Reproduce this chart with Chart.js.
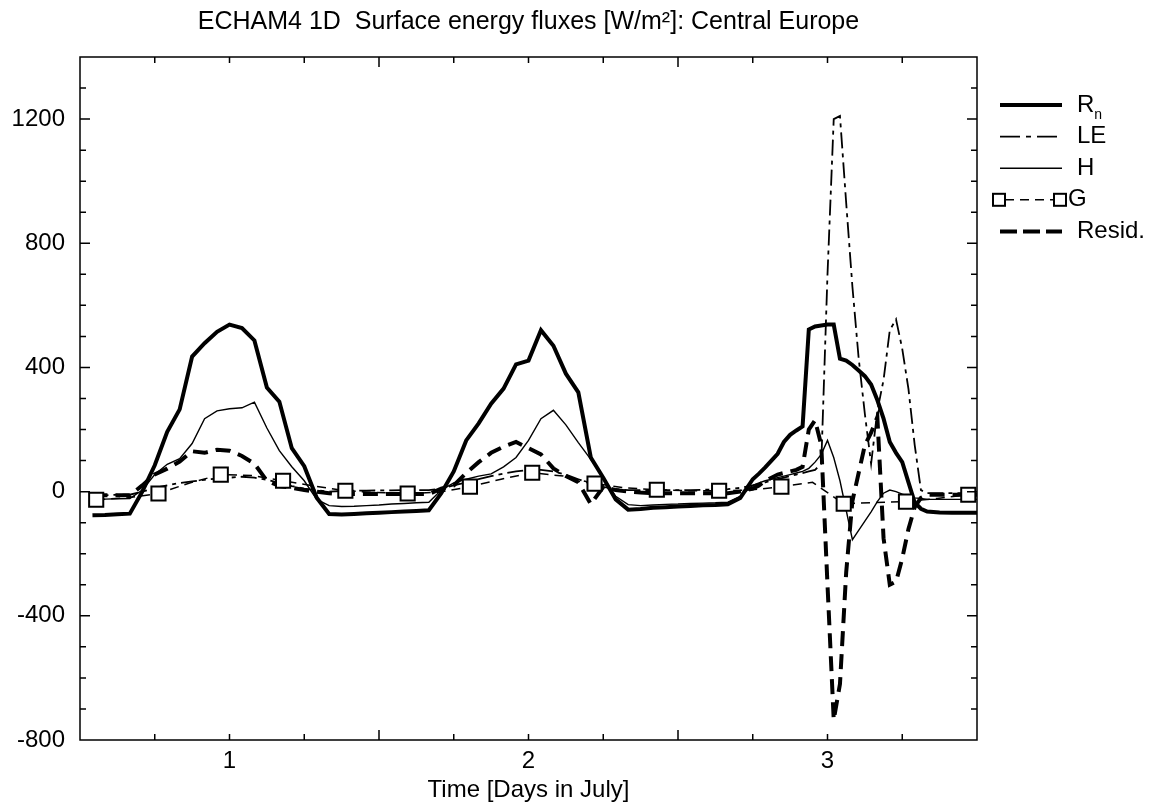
<!DOCTYPE html>
<html>
<head>
<meta charset="utf-8">
<script src="https://cdn.jsdelivr.net/npm/chart.js@4/dist/chart.umd.min.js"></script>
<style>
  html, body { margin: 0; padding: 0; background: #fff; }
</style>
</head>
<body>
<canvas id="fluxChart" width="1153" height="808"></canvas>
<script>
// time axis in hours (day 1 = hour 24); half-hour steps around the day-3 event
const hours = [13, 14, 15, 16, 17, 18, 19, 20, 21, 22,
  23, 24, 25, 26, 27, 28, 29, 30, 31, 32,
  33, 34, 35, 36, 37, 38, 39, 40, 41, 42,
  43, 44, 45, 46, 47, 48, 49, 50, 51, 52,
  53, 54, 55, 56, 57, 58, 59, 60, 61, 62,
  63, 64, 65, 66,
  66.5, 67, 67.5, 68, 68.5, 69, 69.5, 70, 70.5, 71,
  71.5, 72, 72.5, 73, 73.5, 74, 74.5, 75, 75.5, 76,
  76.5, 77, 77.5, 78, 78.5, 79, 79.5, 80,
  81, 82, 83, 84];

const rn = [-76, -75, -73, -71, 0, 85, 193, 265, 435, 478,
  515, 538, 527, 487, 335, 290, 140, 82, -20, -72,
  -74, -72, -70, -68, -66, -64, -62, -60, -5, 65,
  165, 220, 283, 332, 410, 422, 520, 470, 380, 320,
  110, 45, -25, -58, -56, -52, -50, -48, -46, -44,
  -43, -41, -20, 40,
  58, 78, 100, 122, 160, 183, 197, 210, 522, 532,
  535, 538, 538, 428, 422, 408, 390, 372, 345, 295,
  235, 160, 125, 95, 30, -35, -55, -64,
  -67, -68, -68, -68];

const le = [-12, -12, -10, -10, 0, 12, 20, 28, 33, 38,
  42, 45, 48, 45, 38, 28, 18, 10, 4, 0,
  2, 3, 3, 4, 4, 5, 5, 5, 10, 20,
  30, 40, 50, 58, 65, 70, 70, 65, 55, 40,
  25, 15, 8, 5, 5, 5, 5, 5, 5, 6,
  6, 8, 12, 20,
  25, 30, 35, 40, 45, 50, 55, 60, 65, 70,
  90, 700, 1200, 1210, 930, 660, 430, 250, 90, 260,
  360, 520, 555, 460, 330, 150, 5, -5,
  -5, -5, -5, -5];

const sh = [-25, -24, -23, -22, 5, 55, 88, 106, 155, 235,
  260, 267, 270, 288, 205, 132, 80, 35, -25, -45,
  -48, -47, -45, -43, -40, -38, -36, -34, 5, 28,
  40, 50, 57, 80, 110, 165, 235, 262, 215, 158,
  104, 45, -15, -42, -45, -43, -41, -40, -38, -37,
  -36, -34, -15, 20,
  28, 35, 40, 45, 50, 55, 60, 65, 75, 95,
  120, 165, 110, 35, -60, -155, -125, -95, -65, -32,
  -5, 5, 0, -8, -15, -20, -22, -25,
  -25, -25, -25, -25];

const resid = [-12, -12, -12, -12, 20, 55, 74, 97, 130, 125,
  135, 132, 115, 90, 35, 18, 12, 5, 0, -5,
  -8, -8, -8, -8, -8, -8, -8, -8, 10, 20,
  60, 95, 125, 145, 160, 140, 120, 75, 50, 30,
  -40, 15, 5, 0, -3, -5, -5, -5, -5, -5,
  -5, -5, 0, 10,
  20, 35, 45, 55, 60, 65, 70, 80, 200, 230,
  150, -300, -735, -620, -260, -30, 60, 150, 190, 240,
  -150, -300, -290, -215, -120, -50, -20, -10,
  -10, -10, -10, -10];

// ground heat flux, sampled every 2.5 h (square every 5 h)
const gHours = [13.3, 15.8, 18.3, 20.8, 23.3, 25.8, 28.3, 30.8, 33.3, 35.8,
  38.3, 40.8, 43.3, 45.8, 48.3, 50.8, 53.3, 55.8, 58.3, 60.8,
  63.3, 65.8, 68.3, 70.8, 73.3, 75.8, 78.3, 80.8, 83.3, 84];
const gVals = [-26, -20, -6, 28, 55, 52, 35, 18, 3, -3,
  -6, -2, 16, 40, 61, 50, 26, 12, 6, 3,
  3, 5, 16, 30, -39, -35, -32, -22, -10, -8];

const dayTicks = {24: '1', 48: '2', 72: '3'};
const yLabelStep = 400;

const pts = (xs, ys) => xs.map((h, i) => ({x: h, y: ys[i]}));

Chart.defaults.font.family = "'Liberation Sans', Arial, Helvetica, sans-serif";
Chart.defaults.font.size = 24;
Chart.defaults.color = '#000';

// box frame, inward ticks on all four sides, and the line legend
const frameAndLegend = {
  id: 'frameAndLegend',
  afterDatasetsDraw(chart) {
    const {ctx, chartArea: a, scales: {x, y}} = chart;
    ctx.save();
    ctx.strokeStyle = '#000';
    ctx.lineWidth = 1.5;
    ctx.setLineDash([]);
    ctx.beginPath();
    x.ticks.forEach(t => {
      if (t.value <= x.min || t.value >= x.max) return;
      const px = x.getPixelForValue(t.value);
      const len = (t.value % 24 === 12) ? 10 : 6;
      ctx.moveTo(px, a.bottom); ctx.lineTo(px, a.bottom - len);
      ctx.moveTo(px, a.top); ctx.lineTo(px, a.top + len);
    });
    y.ticks.forEach(t => {
      if (t.value <= y.min || t.value >= y.max) return;
      const py = y.getPixelForValue(t.value);
      const len = (t.value % yLabelStep === 0) ? 10 : 6;
      ctx.moveTo(a.left, py); ctx.lineTo(a.left + len, py);
      ctx.moveTo(a.right, py); ctx.lineTo(a.right - len, py);
    });
    ctx.stroke();
    ctx.strokeRect(a.left, a.top, a.width, a.height);

    // legend
    const x0 = a.right + 23, x1 = a.right + 85, tx = a.right + 100;
    ctx.textBaseline = 'middle';
    ctx.textAlign = 'left';
    chart.data.datasets.forEach((ds, i) => {
      const ly = 105 + i * 31.6;
      ctx.lineWidth = ds.borderWidth;
      ctx.setLineDash(ds.legendDash || ds.borderDash || []);
      ctx.beginPath();
      if (ds.label === 'G') {
        ctx.moveTo(x0 + 5, ly); ctx.lineTo(x1 - 8, ly);
        ctx.stroke();
        ctx.setLineDash([]);
        ctx.lineWidth = 2;
        [x0 - 1, x1 - 2].forEach(cx => {
          ctx.fillStyle = '#fff';
          ctx.fillRect(cx - 6, ly - 6, 12, 12);
          ctx.strokeRect(cx - 6, ly - 6, 12, 12);
        });
        ctx.fillStyle = '#000';
        ctx.font = "24px 'Liberation Sans', Arial, sans-serif";
        ctx.fillText('G', x1 + 6, ly);
        return;
      }
      ctx.moveTo(x0, ly); ctx.lineTo(x1, ly);
      ctx.stroke();
      ctx.fillStyle = '#000';
      ctx.font = "24px 'Liberation Sans', Arial, sans-serif";
      if (ds.label === 'Rn') {
        ctx.fillText('R', tx, ly);
        const w = ctx.measureText('R').width;
        ctx.font = "14px 'Liberation Sans', Arial, sans-serif";
        ctx.fillText('n', tx + w, ly + 10);
      } else {
        ctx.fillText(ds.label, tx, ly);
      }
    });
    ctx.restore();
  }
};

new Chart(document.getElementById('fluxChart'), {
  type: 'line',
  data: {
    datasets: [
      {label: 'Rn', data: pts(hours, rn), borderColor: '#000', borderWidth: 4,
        pointRadius: 0, order: 1},
      {label: 'LE', data: pts(hours, le), borderColor: '#000', borderWidth: 1.8,
        borderDash: [16, 5, 4, 5], legendDash: [20, 6, 5, 6], pointRadius: 0, order: 1},
      {label: 'H', data: pts(hours, sh), borderColor: '#000', borderWidth: 1.4,
        pointRadius: 0, order: 1},
      {label: 'G', data: pts(gHours, gVals), borderColor: '#000', borderWidth: 1.5,
        borderDash: [9, 6], pointStyle: 'rect',
        pointRadius: c => (c.dataIndex % 2 === 0 && c.dataIndex < gHours.length - 1) ? 10 : 0,
        pointBackgroundColor: '#fff', pointBorderColor: '#000', pointBorderWidth: 2, order: 0},
      {label: 'Resid.', data: pts(hours, resid), borderColor: '#000', borderWidth: 4,
        borderDash: [15, 8], legendDash: [17, 6], pointRadius: 0, order: 1}
    ]
  },
  options: {
    responsive: false,
    animation: false,
    layout: {padding: {left: 0, right: 176, top: 0, bottom: 0}},
    plugins: {
      legend: {display: false},
      tooltip: {enabled: false},
      title: {
        display: true,
        fullSize: false,
        text: 'ECHAM4 1D  Surface energy fluxes [W/m²]: Central Europe',
        font: {size: 25, weight: 'normal'},
        color: '#000',
        padding: {top: 7, bottom: 20}
      }
    },
    scales: {
      x: {
        type: 'linear',
        min: 12, max: 84,
        grid: {display: false, drawTicks: false},
        border: {display: false},
        ticks: {stepSize: 6, autoSkip: false, maxRotation: 0, padding: 7,
          callback: v => dayTicks[v] || ''},
        title: {display: true, text: 'Time [Days in July]', padding: {top: 0, bottom: 3}},
        afterFit: s => { s.height = 68; }
      },
      y: {
        min: -800, max: 1400,
        grid: {display: false, drawTicks: false},
        border: {display: false},
        ticks: {stepSize: 100, autoSkip: false, padding: 15,
          callback: v => (v % yLabelStep === 0) ? v : ''},
        afterFit: s => { s.width = 80; }
      }
    }
  },
  plugins: [frameAndLegend]
});
</script>
</body>
</html>
